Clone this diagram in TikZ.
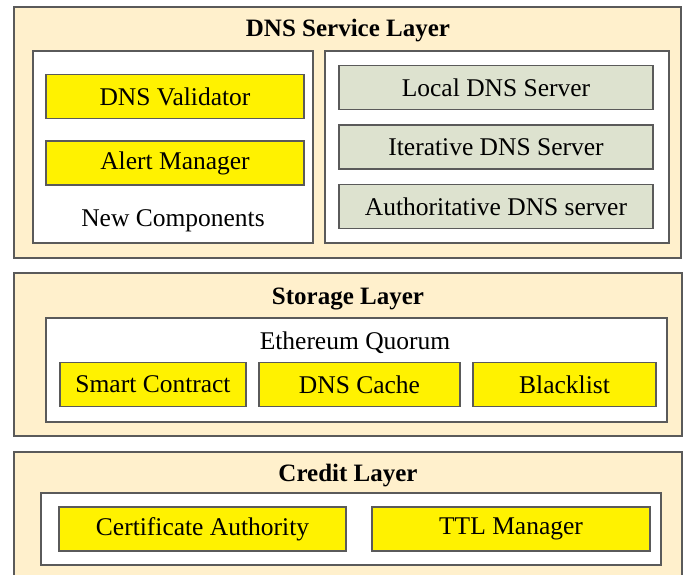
\documentclass[tikz,border=0pt]{standalone}
\usepackage{fontspec}
\setmainfont{Liberation Serif}
\definecolor{layerfill}{HTML}{FFF0CC}
\definecolor{srvfill}{HTML}{DDE2CF}
\definecolor{edge}{HTML}{5A5A5A}
\begin{document}
\begin{tikzpicture}[x=1pt,y=-1pt,
  layer/.style={draw=edge,line width=1.3pt,fill=layerfill,inner sep=0pt,rectangle},
  panel/.style={draw=edge,line width=1.3pt,fill=white,inner sep=0pt,rectangle},
  yb/.style={draw=edge,line width=1.3pt,fill=yellow,inner sep=0pt,rectangle,minimum height=44pt,font=\fontsize{25.5}{27}\selectfont},
  gb/.style={draw=edge,line width=1.3pt,fill=srvfill,inner sep=0pt,rectangle,minimum width=314pt,minimum height=44pt,font=\fontsize{25.5}{27}\selectfont},
  ttl/.style={font=\fontsize{25}{27}\selectfont\bfseries,inner sep=0pt},
  lbl/.style={font=\fontsize{25.5}{27}\selectfont,inner sep=0pt}]
\useasboundingbox (0,0) rectangle (687,574);
\clip (0,0) rectangle (687,574);
% DNS Service Layer
\node[layer,minimum width=667pt,minimum height=251pt] (dnsl) at (347.5,132.5) {};
\node[ttl] (dnst) at (348,31) {DNS Service Layer};
\node[panel,minimum width=280pt,minimum height=192pt] (newc) at (173,147) {};
\node[yb,minimum width=258pt] (val) at (175,96.5) {DNS Validator};
\node[yb,minimum width=258pt] (alert) at (175,163) {Alert Manager};
\node[lbl] (newct) at (173,221) {New Components};
\node[panel,minimum width=344pt,minimum height=192pt] (srv) at (497,147) {};
\node[gb] (local) at (496,87.5) {Local DNS Server};
\node[gb] (iter) at (496,147) {Iterative DNS Server};
\node[gb] (auth) at (496,206.5) {Authoritative DNS server};
% Storage Layer
\node[layer,minimum width=668pt,minimum height=163pt] (stl) at (348,354.5) {};
\node[ttl] (stt) at (348,299) {Storage Layer};
\node[panel,minimum width=621pt,minimum height=104pt] (eth) at (356.5,370) {};
\node[lbl] (etht) at (355,343) {Ethereum Quorum};
\node[yb,minimum width=186pt] (smart) at (153,384.5) {Smart Contract};
\node[yb,minimum width=201pt] (cache) at (359.5,384.5) {DNS Cache};
\node[yb,minimum width=183pt] (black) at (564.5,384.5) {Blacklist};
% Credit Layer
\node[layer,minimum width=668pt,minimum height=150pt] (crl) at (348,527) {};
\node[ttl] (crt) at (348,476) {Credit Layer};
\node[panel,minimum width=620pt,minimum height=72pt] (crp) at (351,529) {};
\node[yb,minimum width=287pt] (ca) at (202.5,529) {Certificate Authority};
\node[yb,minimum width=278pt] (ttlm) at (511,529) {TTL Manager};
\end{tikzpicture}
\end{document}
